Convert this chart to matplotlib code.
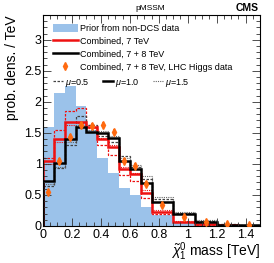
import numpy as np
import matplotlib
matplotlib.use("Agg")
import matplotlib.pyplot as plt
from matplotlib.lines import Line2D
from matplotlib.patches import Patch
from matplotlib.ticker import MultipleLocator

plt.rcParams['font.family'] = ['Liberation Sans', 'DejaVu Sans']
plt.rcParams['mathtext.fontset'] = 'custom'
plt.rcParams['mathtext.rm'] = 'Liberation Sans'
plt.rcParams['mathtext.it'] = 'Liberation Sans:italic'

# bin edges (TeV): fine bins up to 0.75, wide bins after
edges = [0, 0.075, 0.15, 0.225, 0.3, 0.375, 0.45, 0.525, 0.6, 0.675, 0.75,
         0.9, 1.05, 1.2, 1.35, 1.5]

prior = [1.60, 2.14, 2.25, 1.94, 1.55, 1.09, 0.85, 0.61, 0.50, 0.30,
         0.17, 0.05, 0.02, 0.01, 0.0]

comb7 = [1.04, 1.40, 1.68, 1.68, 1.60, 1.40, 1.28, 0.91, 0.83, 0.53,
         0.23, 0.07, 0.03, 0.01, 0.0]
comb7_mu05 = [1.10, 1.55, 1.85, 1.90, 1.62, 1.30, 1.15, 0.82, 0.72, 0.45,
              0.20, 0.06, 0.02, 0.01, 0.0]
comb7_mu15 = [1.00, 1.36, 1.62, 1.66, 1.58, 1.42, 1.30, 0.95, 0.86, 0.58,
              0.26, 0.08, 0.03, 0.01, 0.0]

comb78 = [0.73, 1.02, 1.40, 1.60, 1.52, 1.50, 1.41, 1.05, 0.91, 0.69,
          0.38, 0.19, 0.07, 0.02, 0.01]
comb78_mu05 = [0.65, 0.93, 1.30, 1.77, 1.62, 1.45, 1.35, 1.12, 0.95, 0.75,
               0.43, 0.21, 0.08, 0.03, 0.01]
comb78_mu15 = [0.68, 0.95, 1.36, 1.62, 1.55, 1.53, 1.45, 1.10, 0.98, 0.80,
               0.47, 0.23, 0.09, 0.03, 0.01]

higgs = [0.55, 1.04, 1.43, 1.63, 1.61, 1.63, 1.52, 1.05, 0.96, 0.68,
         0.34, 0.15, 0.07, 0.03, 0.02]
higgs_err = [0.05, 0.05, 0.05, 0.05, 0.05, 0.05, 0.05, 0.05, 0.05, 0.05,
             0.04, 0.03, 0.02, 0.02, 0.02]

BLUE = '#9bc2ea'
RED = '#ee1111'
ORANGE = '#ff6a10'

fig = plt.figure(figsize=(2.74, 2.63), dpi=100)
ax = fig.add_axes([0.157, 0.141, 0.792, 0.802])

edges_a = np.asarray(edges)
centers = 0.5 * (edges_a[1:] + edges_a[:-1])

ax.stairs(prior, edges, fill=True, color=BLUE, lw=0)
ax.stairs(comb7_mu05, edges, color=RED, lw=0.9, ls=(0, (2, 1.2)))
ax.stairs(comb7_mu15, edges, color=RED, lw=0.8, ls=(0, (1, 1)))
ax.stairs(comb78_mu05, edges, color='#444444', lw=0.9, ls=(0, (2, 1.2)))
ax.stairs(comb78_mu15, edges, color='#666666', lw=0.8, ls=(0, (1, 1)))
ax.stairs(comb7, edges, color=RED, lw=1.8)
ax.stairs(comb78, edges, color='black', lw=1.8)
ax.errorbar(centers, higgs, yerr=higgs_err, fmt='d', ms=4, color=ORANGE,
            mec=ORANGE, elinewidth=1.2, capsize=0, zorder=5)

ax.set_xlim(0, 1.5)
ax.set_ylim(0, 3.4)
ax.xaxis.set_major_locator(MultipleLocator(0.2))
ax.xaxis.set_minor_locator(MultipleLocator(0.05))
ax.yaxis.set_major_locator(MultipleLocator(0.5))
ax.yaxis.set_minor_locator(MultipleLocator(0.1))
ax.tick_params(which='both', direction='in', top=True, right=True,
               labelsize=9, width=0.6, color='#333333')
ax.tick_params(which='major', length=6)
ax.tick_params(which='minor', length=3)
ax.xaxis.set_major_formatter(matplotlib.ticker.FuncFormatter(
    lambda v, p: '%g' % round(v, 2)))
ax.yaxis.set_major_formatter(matplotlib.ticker.FuncFormatter(
    lambda v, p: '%g' % round(v, 2)))
ax.tick_params(axis='x', pad=2)
ax.tick_params(axis='y', pad=1)
for s in ax.spines.values():
    s.set_linewidth(0.8)

ax.set_ylabel('prob. dens. / TeV', fontsize=10, loc='top', labelpad=4)
ax.set_xlabel(r'$\tilde{\chi}^0_1$ mass [TeV]', fontsize=10, loc='right',
              labelpad=0)

fig.text(0.55, 0.968, 'pMSSM', fontsize=6, ha='center', va='center')
fig.text(0.945, 0.968, 'CMS', fontsize=7.5, ha='right', va='center',
         fontweight='bold')

handles = [Patch(color=BLUE, lw=0),
           Line2D([], [], color=RED, lw=1.8),
           Line2D([], [], color='black', lw=1.8),
           Line2D([], [], color=ORANGE, marker='d', ms=4, ls='none')]
labels = ['Prior from non-DCS data', 'Combined, 7 TeV',
          'Combined, 7 + 8 TeV', 'Combined, 7 + 8 TeV, LHC Higgs data']
leg1 = ax.legend(handles, labels, loc='upper left',
                 bbox_to_anchor=(0.03, 0.975), frameon=False, fontsize=6.5,
                 handlelength=2.7, handleheight=1.0, handletextpad=0.25,
                 labelspacing=0.42, borderaxespad=0)
ax.add_artist(leg1)

mu_handles = [Line2D([], [], color='#444444', lw=0.9, ls=(0, (2, 1.2))),
              Line2D([], [], color='black', lw=1.8),
              Line2D([], [], color='#666666', lw=0.8, ls=(0, (1, 1)))]
mu_labels = [r'$\mu$=0.5', r'$\mu$=1.0', r'$\mu$=1.5']
ax.legend(mu_handles, mu_labels, loc='upper left', ncol=3,
          bbox_to_anchor=(0.03, 0.725), frameon=False, fontsize=6.5,
          handlelength=1.1, handletextpad=0.2, columnspacing=1.5,
          borderaxespad=0)

fig.savefig('out.png', dpi=100)
